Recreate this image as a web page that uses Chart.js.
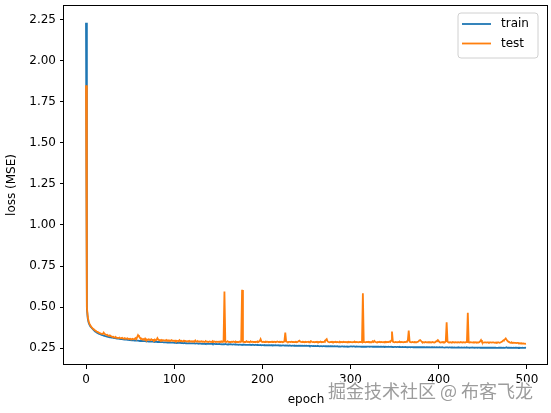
<!DOCTYPE html>
<html>
<head>
<meta charset="utf-8">
<script src="https://cdn.jsdelivr.net/npm/chart.js@4/dist/chart.umd.min.js"></script>
<style>
  html, body { margin: 0; padding: 0; background: #ffffff; }
  #wrap { width: 551px; height: 413px; position: relative; }
</style>
</head>
<body>
<div id="wrap"><canvas id="c" width="551" height="413"></canvas></div>
<script>
// ---- data ----
const seriesNames = ['train', 'test'];
const trainLoss = [
  2.230,0.490,0.430,0.405,0.392,0.383,0.376,0.370,0.364,0.359, // 0
  0.354,0.350,0.346,0.343,0.340,0.337,0.335,0.333,0.331,0.329, // 10
  0.327,0.325,0.323,0.322,0.320,0.319,0.318,0.317,0.316,0.315, // 20
  0.314,0.313,0.312,0.311,0.310,0.309,0.309,0.308,0.307,0.306, // 30
  0.306,0.305,0.304,0.304,0.303,0.302,0.302,0.301,0.301,0.300, // 40
  0.300,0.299,0.299,0.298,0.298,0.297,0.297,0.296,0.296,0.296, // 50
  0.295,0.295,0.294,0.294,0.294,0.293,0.293,0.293,0.292,0.292, // 60
  0.292,0.291,0.291,0.291,0.290,0.290,0.290,0.289,0.289,0.289, // 70
  0.289,0.288,0.288,0.288,0.287,0.287,0.287,0.287,0.286,0.286, // 80
  0.286,0.286,0.285,0.285,0.285,0.285,0.284,0.284,0.284,0.284, // 90
  0.283,0.284,0.283,0.282,0.283,0.282,0.282,0.283,0.281,0.282, // 100
  0.281,0.281,0.282,0.280,0.281,0.280,0.280,0.281,0.279,0.280, // 110
  0.280,0.279,0.279,0.280,0.278,0.279,0.279,0.278,0.278,0.279, // 120
  0.278,0.277,0.278,0.277,0.277,0.278,0.276,0.277,0.277,0.276, // 130
  0.277,0.276,0.276,0.277,0.275,0.276,0.276,0.275,0.276,0.275, // 140
  0.275,0.276,0.275,0.274,0.275,0.274,0.275,0.274,0.276,0.274, // 150
  0.274,0.273,0.274,0.273,0.274,0.273,0.272,0.273,0.273,0.272, // 160
  0.273,0.272,0.272,0.271,0.272,0.272,0.271,0.272,0.271,0.273, // 170
  0.271,0.271,0.270,0.271,0.271,0.270,0.271,0.270,0.270,0.271, // 180
  0.270,0.269,0.270,0.270,0.269,0.270,0.269,0.269,0.270,0.268, // 190
  0.269,0.269,0.268,0.269,0.268,0.269,0.268,0.268,0.269,0.267, // 200
  0.268,0.268,0.267,0.268,0.267,0.268,0.267,0.267,0.268,0.266, // 210
  0.267,0.267,0.266,0.267,0.267,0.266,0.267,0.266,0.267,0.266, // 220
  0.266,0.267,0.266,0.265,0.266,0.266,0.265,0.266,0.265,0.266, // 230
  0.265,0.266,0.265,0.265,0.264,0.265,0.265,0.264,0.265,0.264, // 240
  0.265,0.264,0.264,0.265,0.263,0.264,0.264,0.263,0.264,0.263, // 250
  0.264,0.263,0.263,0.264,0.263,0.262,0.263,0.263,0.262,0.263, // 260
  0.263,0.262,0.262,0.263,0.262,0.262,0.261,0.262,0.262,0.261, // 270
  0.262,0.261,0.262,0.261,0.261,0.262,0.260,0.261,0.261,0.260, // 280
  0.261,0.261,0.260,0.261,0.260,0.260,0.261,0.259,0.260,0.260, // 290
  0.261,0.261,0.260,0.261,0.261,0.260,0.260,0.261,0.260,0.260, // 300
  0.260,0.260,0.259,0.260,0.260,0.259,0.260,0.259,0.259,0.260, // 310
  0.260,0.260,0.259,0.260,0.260,0.259,0.260,0.259,0.259,0.260, // 320
  0.259,0.259,0.260,0.258,0.259,0.259,0.258,0.259,0.259,0.258, // 330
  0.259,0.258,0.258,0.259,0.258,0.258,0.259,0.258,0.258,0.257, // 340
  0.258,0.258,0.257,0.258,0.258,0.257,0.258,0.257,0.257,0.258, // 350
  0.257,0.257,0.258,0.257,0.257,0.256,0.257,0.257,0.256,0.257, // 360
  0.257,0.256,0.257,0.256,0.256,0.257,0.256,0.256,0.257,0.256, // 370
  0.256,0.256,0.257,0.256,0.256,0.255,0.256,0.256,0.255,0.256, // 380
  0.256,0.255,0.256,0.256,0.255,0.256,0.255,0.255,0.256,0.255, // 390
  0.255,0.256,0.255,0.255,0.256,0.255,0.255,0.254,0.255,0.255, // 400
  0.255,0.254,0.255,0.255,0.254,0.255,0.255,0.254,0.255,0.254, // 410
  0.254,0.255,0.254,0.255,0.254,0.254,0.255,0.254,0.254,0.255, // 420
  0.254,0.254,0.255,0.254,0.254,0.253,0.254,0.254,0.255,0.254, // 430
  0.254,0.253,0.254,0.254,0.253,0.254,0.254,0.253,0.254,0.253, // 440
  0.254,0.253,0.253,0.254,0.253,0.254,0.253,0.253,0.254,0.253, // 450
  0.253,0.254,0.253,0.253,0.254,0.253,0.253,0.252,0.253,0.253, // 460
  0.253,0.253,0.252,0.253,0.253,0.252,0.253,0.256,0.252,0.253, // 470
  0.253,0.252,0.253,0.253,0.252,0.253,0.252,0.253,0.253,0.252, // 480
  0.253,0.252,0.253,0.252,0.252,0.253,0.252,0.252,0.253,0.252  // 490
];
const testLoss = [
  1.850,0.500,0.440,0.413,0.398,0.388,0.380,0.373,0.368,0.364, // 0
  0.359,0.356,0.352,0.349,0.347,0.343,0.341,0.340,0.337,0.336, // 10
  0.345,0.338,0.333,0.331,0.332,0.327,0.326,0.328,0.323,0.322, // 20
  0.318,0.320,0.316,0.314,0.317,0.313,0.313,0.312,0.315,0.310, // 30
  0.311,0.313,0.308,0.309,0.312,0.307,0.308,0.310,0.306,0.307, // 40
  0.308,0.305,0.306,0.308,0.304,0.306,0.312,0.305,0.318,0.330, // 50
  0.322,0.315,0.307,0.309,0.303,0.306,0.302,0.309,0.301,0.303, // 60
  0.300,0.304,0.302,0.299,0.305,0.300,0.301,0.298,0.303,0.299, // 70
  0.300,0.311,0.302,0.298,0.300,0.297,0.301,0.296,0.299,0.297, // 80
  0.296,0.300,0.295,0.298,0.296,0.297,0.294,0.299,0.295,0.296, // 90
  0.294,0.297,0.293,0.296,0.294,0.292,0.299,0.293,0.295,0.292, // 100
  0.293,0.296,0.292,0.294,0.291,0.293,0.290,0.295,0.292,0.291, // 110
  0.293,0.290,0.292,0.289,0.297,0.291,0.290,0.292,0.289,0.291, // 120
  0.290,0.292,0.289,0.291,0.288,0.290,0.292,0.289,0.290,0.288, // 130
  0.291,0.289,0.290,0.288,0.292,0.289,0.291,0.288,0.290,0.289, // 140
  0.290,0.288,0.291,0.289,0.292,0.288,0.290,0.595,0.289,0.288, // 150
  0.290,0.291,0.288,0.289,0.287,0.290,0.288,0.291,0.289,0.288, // 160
  0.290,0.288,0.289,0.287,0.291,0.288,0.290,0.605,0.290,0.288, // 170
  0.289,0.287,0.293,0.288,0.290,0.287,0.289,0.291,0.288,0.290, // 180
  0.288,0.289,0.287,0.290,0.288,0.291,0.289,0.293,0.305,0.290, // 190
  0.288,0.290,0.287,0.289,0.291,0.288,0.290,0.287,0.289,0.288, // 200
  0.290,0.287,0.289,0.288,0.290,0.287,0.289,0.291,0.288,0.287, // 210
  0.289,0.288,0.290,0.287,0.289,0.292,0.345,0.290,0.288,0.287, // 220
  0.289,0.288,0.287,0.290,0.288,0.289,0.287,0.288,0.290,0.287, // 230
  0.289,0.292,0.296,0.290,0.288,0.287,0.289,0.288,0.286,0.289, // 240
  0.287,0.288,0.290,0.286,0.288,0.293,0.289,0.287,0.288,0.286, // 250
  0.288,0.287,0.289,0.286,0.288,0.287,0.290,0.286,0.288,0.287, // 260
  0.289,0.296,0.300,0.305,0.291,0.288,0.286,0.288,0.287,0.289, // 270
  0.286,0.288,0.287,0.289,0.286,0.288,0.287,0.286,0.289,0.287, // 280
  0.288,0.286,0.289,0.287,0.288,0.286,0.288,0.287,0.289,0.286, // 290
  0.288,0.287,0.286,0.288,0.287,0.289,0.286,0.288,0.287,0.286, // 300
  0.288,0.287,0.289,0.286,0.585,0.288,0.287,0.286,0.288,0.287, // 310
  0.289,0.286,0.288,0.287,0.286,0.292,0.288,0.295,0.289,0.287, // 320
  0.286,0.288,0.287,0.289,0.286,0.288,0.287,0.286,0.288,0.287, // 330
  0.289,0.286,0.288,0.287,0.291,0.288,0.296,0.352,0.290,0.287, // 340
  0.286,0.288,0.287,0.286,0.288,0.287,0.289,0.286,0.288,0.287, // 350
  0.286,0.288,0.287,0.289,0.292,0.298,0.358,0.290,0.287,0.286, // 360
  0.288,0.287,0.286,0.288,0.287,0.286,0.289,0.291,0.297,0.300, // 370
  0.294,0.288,0.286,0.287,0.285,0.288,0.286,0.287,0.285,0.288, // 380
  0.286,0.287,0.285,0.288,0.286,0.285,0.287,0.292,0.295,0.300, // 390
  0.293,0.287,0.285,0.286,0.288,0.285,0.287,0.286,0.292,0.408, // 400
  0.290,0.286,0.285,0.287,0.286,0.285,0.288,0.286,0.285,0.287, // 410
  0.286,0.285,0.287,0.286,0.285,0.288,0.286,0.285,0.287,0.286, // 420
  0.285,0.287,0.290,0.465,0.286,0.285,0.287,0.286,0.285,0.284, // 430
  0.286,0.285,0.287,0.284,0.286,0.285,0.287,0.292,0.300,0.289, // 440
  0.285,0.284,0.286,0.285,0.284,0.286,0.285,0.284,0.286,0.285, // 450
  0.284,0.286,0.285,0.284,0.283,0.285,0.284,0.286,0.285,0.283, // 460
  0.285,0.288,0.291,0.296,0.300,0.304,0.310,0.302,0.295,0.290, // 470
  0.287,0.284,0.283,0.285,0.282,0.284,0.283,0.282,0.281,0.283, // 480
  0.282,0.280,0.281,0.279,0.280,0.278,0.279,0.278,0.277,0.278  // 490
];
const epochs = trainLoss.map((_, i) => i);
const xTickValues = [0, 100, 200, 300, 400, 500];
const yTickValues = [0.25, 0.50, 0.75, 1.00, 1.25, 1.50, 1.75, 2.00, 2.25];
const xTitle = 'epoch';
const yTitle = 'loss (MSE)';
const watermark = '掘金技术社区 @ 布客飞龙';

// ---- styling ----
const FONT = 'DejaVu Sans';
const colors = ['#1f77b4', '#ff7f0e'];

const framePlugin = {
  id: 'frame',
  afterDatasetsDraw(chart) {
    const { ctx, chartArea: a } = chart;
    ctx.save();
    ctx.strokeStyle = '#000';
    ctx.lineWidth = 1;
    ctx.strokeRect(Math.round(a.left) - 0.5, Math.round(a.top) + 0.5,
                   Math.round(a.right - a.left), Math.round(a.bottom - a.top) - 1);
    ctx.restore();
  }
};

const legendPlugin = {
  id: 'mplLegend',
  afterDraw(chart) {
    const { ctx, chartArea: a } = chart;
    const bx = a.right - 90, by = a.top + 8, bw = 80, bh = 45, r = 3;
    ctx.save();
    ctx.beginPath();
    ctx.moveTo(bx + r, by);
    ctx.lineTo(bx + bw - r, by); ctx.arcTo(bx + bw, by, bx + bw, by + r, r);
    ctx.lineTo(bx + bw, by + bh - r); ctx.arcTo(bx + bw, by + bh, bx + bw - r, by + bh, r);
    ctx.lineTo(bx + r, by + bh); ctx.arcTo(bx, by + bh, bx, by + bh - r, r);
    ctx.lineTo(bx, by + r); ctx.arcTo(bx, by, bx + r, by, r);
    ctx.closePath();
    ctx.fillStyle = 'rgba(255,255,255,0.8)';
    ctx.fill();
    ctx.strokeStyle = '#d0d0d0';
    ctx.lineWidth = 1;
    ctx.stroke();
    ctx.font = '12px "' + FONT + '"';
    ctx.textBaseline = 'middle';
    ctx.textAlign = 'left';
    chart.data.datasets.forEach((ds, i) => {
      const y = by + 11 + i * 19.5;
      ctx.beginPath();
      ctx.moveTo(bx + 4, y);
      ctx.lineTo(bx + 33, y);
      ctx.strokeStyle = ds.borderColor;
      ctx.lineWidth = 1.8;
      ctx.stroke();
      ctx.fillStyle = '#000';
      ctx.fillText(ds.label, bx + 43, y);
    });
    // watermark
    ctx.font = '18px "Noto Sans CJK SC"';
    ctx.textBaseline = 'middle';
    ctx.lineJoin = 'round';
    ctx.strokeStyle = 'rgba(255,255,255,0.9)';
    ctx.lineWidth = 3;
    ctx.strokeText(watermark, 328, 391);
    ctx.fillStyle = '#9c9c9c';
    ctx.fillText(watermark, 328, 391);
    ctx.restore();
  }
};

const tickFont = { family: FONT, size: 12 };
const zeroPad = s => { s.paddingTop = 0; s.paddingBottom = 0; s.paddingLeft = 0; s.paddingRight = 0; };

new Chart(document.getElementById('c'), {
  type: 'line',
  data: {
    datasets: [
      {
        label: seriesNames[0],
        data: epochs.map((e, i) => ({ x: e, y: trainLoss[i] })),
        borderColor: colors[0], backgroundColor: colors[0],
        borderWidth: 1.8, pointRadius: 0, tension: 0, order: 1
      },
      {
        label: seriesNames[1],
        data: epochs.map((e, i) => ({ x: e, y: testLoss[i] })),
        borderColor: colors[1], backgroundColor: colors[1],
        borderWidth: 1.8, pointRadius: 0, tension: 0, order: 0
      }
    ]
  },
  options: {
    responsive: false,
    animation: false,
    devicePixelRatio: 1,
    layout: { padding: { top: 5, right: 3, left: 0, bottom: 0 } },
    plugins: { legend: { display: false }, tooltip: { enabled: false } },
    scales: {
      x: {
        type: 'linear',
        min: -24.95, max: 523.95,
        afterBuildTicks: s => { s.ticks = xTickValues.map(v => ({ value: v })); },
        afterFit: s => { s.height = 48; zeroPad(s); },
        ticks: { font: tickFont, color: '#000', padding: 4, maxRotation: 0, autoSkip: false,
                 callback: v => String(v) },
        grid: { display: true, drawOnChartArea: false, drawTicks: true, tickLength: 4,
                tickColor: '#000', tickWidth: 1 },
        border: { display: false },
        title: { display: true, text: xTitle, font: tickFont, color: '#000',
                 padding: { top: 0, bottom: 6 } }
      },
      y: {
        type: 'linear',
        min: 0.148, max: 2.338,
        afterBuildTicks: s => { s.ticks = yTickValues.map(v => ({ value: v })); },
        afterFit: s => { s.width = 64; zeroPad(s); },
        ticks: { font: tickFont, color: '#000', padding: 4, autoSkip: false,
                 callback: v => Number(v).toFixed(2) },
        grid: { display: true, drawOnChartArea: false, drawTicks: true, tickLength: 4,
                tickColor: '#000', tickWidth: 1 },
        border: { display: false },
        title: { display: true, text: yTitle, font: tickFont, color: '#000',
                 padding: { top: 5, bottom: 0 } }
      }
    }
  },
  plugins: [framePlugin, legendPlugin]
});
</script>
</body>
</html>
